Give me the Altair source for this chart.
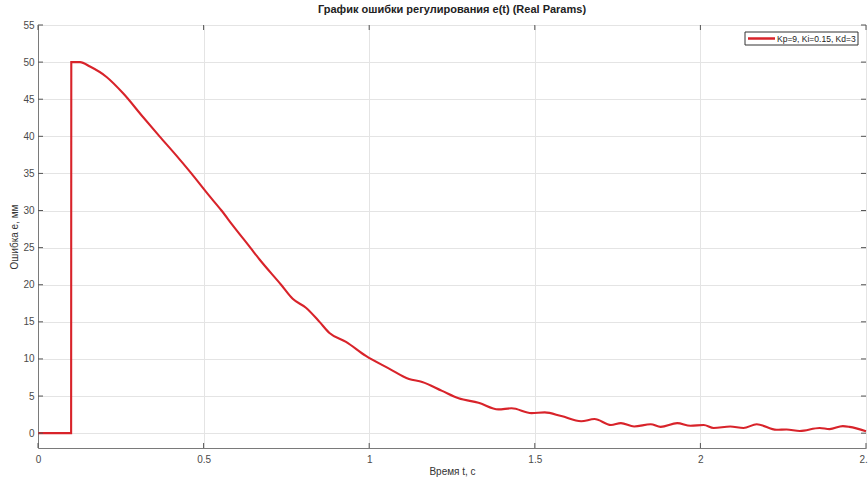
import altair as alt
import pandas as pd

# Control error e(t) of the PID loop, sampled along the response
t_values = [0.0, 0.1, 0.1005, 0.127, 0.157, 0.207, 0.257, 0.317, 0.367,
            0.418, 0.463, 0.513, 0.554, 0.588, 0.641, 0.669, 0.734, 0.769, 0.809,
            0.85, 0.88, 0.93, 0.99, 1.06, 1.12, 1.16, 1.22, 1.27, 1.33,
            1.39, 1.43, 1.49, 1.53, 1.58, 1.64, 1.68, 1.73, 1.76, 1.80,
            1.85, 1.88, 1.93, 1.97, 2.01, 2.04, 2.09, 2.13, 2.17, 2.23,
            2.26, 2.30, 2.36, 2.39, 2.43, 2.45, 2.5]
e_values = [0.0, 0.0, 50.0, 50.0, 49.4, 48.0, 45.8, 42.6, 40.0,
            37.4, 35.0, 32.2, 30.0, 28.0, 25.0, 23.4, 20.0, 18.1, 16.9,
            15.0, 13.5, 12.3, 10.4, 8.7, 7.3, 6.9, 5.7, 4.7, 4.1,
            3.2, 3.35, 2.7, 2.8, 2.3, 1.6, 1.9, 1.1, 1.35, 0.9,
            1.2, 0.85, 1.35, 1.0, 1.1, 0.7, 0.9, 0.7, 1.2, 0.45,
            0.5, 0.3, 0.7, 0.55, 0.95, 0.85, 0.25]
series_name = "Kp=9, Ki=0.15, Kd=3"

x_ticks = [0, 0.5, 1, 1.5, 2, 2.5]
y_ticks = [0, 5, 10, 15, 20, 25, 30, 35, 40, 45, 50, 55]

W, H = 828, 423
FONT = "Liberation Sans"
LABEL_COLOR = "#4a4a4a"
AXIS_COLOR = "#7a7a7a"
LINE_COLOR = "#d8232a"

df = pd.DataFrame({"t": t_values, "e": e_values, "series": series_name})
xt = pd.DataFrame({"t": x_ticks})
yt = pd.DataFrame({"e": y_ticks})
legend_df = pd.DataFrame({"series": [series_name]})

x_scale = alt.Scale(domain=[0, 2.5], nice=False, zero=False)
y_scale = alt.Scale(domain=[-2, 55], nice=False, zero=False)

x_axis = alt.Axis(values=x_ticks, labelExpr="format(datum.value, '~g')",
                  grid=True, gridColor="#e4e4e4", gridWidth=1,
                  domainColor=AXIS_COLOR, ticks=False, labelPadding=6,
                  labelFont=FONT, labelFontSize=10, labelColor=LABEL_COLOR,
                  labelFlush=False, labelOverlap=False, labelBound=False,
                  titleFont=FONT, titleFontSize=10, titleFontWeight="normal",
                  titleColor="#333333", titlePadding=2)
y_axis = alt.Axis(values=y_ticks, grid=True, gridColor="#e4e4e4", gridWidth=1,
                  domainColor=AXIS_COLOR, ticks=False, labelPadding=4,
                  labelFont=FONT, labelFontSize=10, labelColor=LABEL_COLOR,
                  labelOverlap=False, labelBound=False,
                  titleFont=FONT, titleFontSize=10, titleFontWeight="normal",
                  titleColor="#333333", titlePadding=3)

x_enc = alt.X("t:Q", scale=x_scale, title="Время t, с", axis=x_axis)
y_enc = alt.Y("e:Q", scale=y_scale, title="Ошибка e, мм", axis=y_axis)

line = alt.Chart(df).mark_line(strokeWidth=2.1, interpolate="monotone",
                               color=LINE_COLOR).encode(x=x_enc, y=y_enc)

# Inward tick marks on all four sides of the box
tick_color = "#555555"
bottom_ticks = alt.Chart(xt).mark_rule(color=tick_color, strokeWidth=1).encode(
    x=x_enc, y=alt.value(H), y2=alt.value(H - 5))
top_ticks = alt.Chart(xt).mark_rule(color=tick_color, strokeWidth=1).encode(
    x=x_enc, y=alt.value(0), y2=alt.value(5))
left_ticks = alt.Chart(yt).mark_rule(color=tick_color, strokeWidth=1).encode(
    y=y_enc, x=alt.value(0), x2=alt.value(5))
right_ticks = alt.Chart(yt).mark_rule(color=tick_color, strokeWidth=1).encode(
    y=y_enc, x=alt.value(W), x2=alt.value(W - 5))

# Boxed legend in the upper-right corner
legend_box = alt.Chart(legend_df).mark_rect(fill="white", stroke="#333333",
                                            strokeWidth=1).encode(
    x=alt.value(707), x2=alt.value(820), y=alt.value(7), y2=alt.value(20))
legend_line = alt.Chart(legend_df).mark_rule(color=LINE_COLOR, strokeWidth=2.5).encode(
    x=alt.value(710), x2=alt.value(737), y=alt.value(13.5))
legend_text = alt.Chart(legend_df).mark_text(align="left", baseline="middle",
                                             font=FONT, fontSize=8.5,
                                             color="#222222").encode(
    text="series:N", x=alt.value(739), y=alt.value(14))

chart = alt.layer(line, bottom_ticks, top_ticks, left_ticks, right_ticks,
                  legend_box, legend_line, legend_text).properties(
    width=W, height=H,
    title=alt.TitleParams("График ошибки регулирования e(t) (Real Params)",
                          font=FONT, fontSize=11, fontWeight="bold",
                          color="#222222", anchor="middle", offset=5),
    autosize=alt.AutoSizeParams(type="none"),
    padding={"left": 38, "top": 25, "right": 2, "bottom": 29},
).configure_view(stroke=AXIS_COLOR, strokeWidth=1).configure(background="white")

chart.save("out.html", embed_options={"renderer": "svg", "actions": False})
